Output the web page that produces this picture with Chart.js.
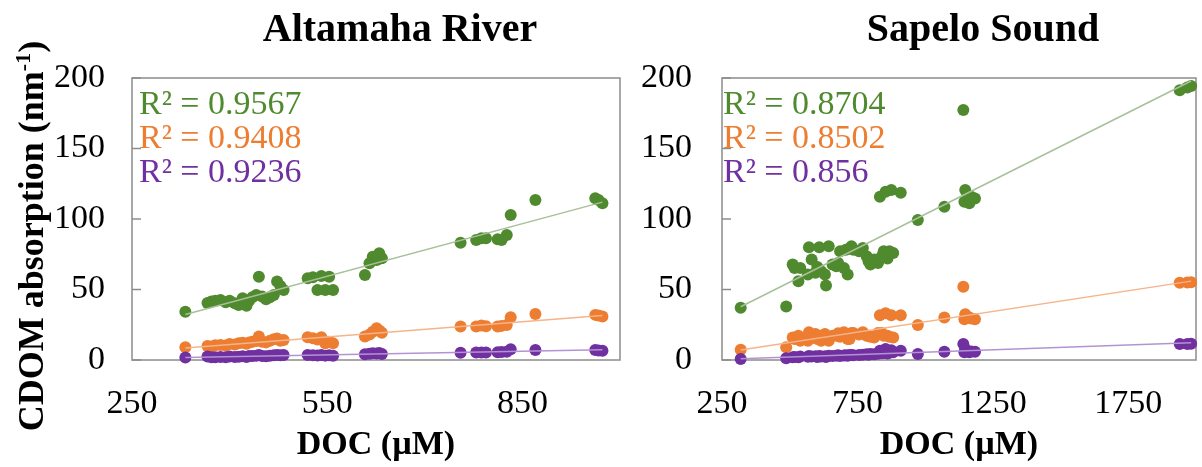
<!DOCTYPE html>
<html>
<head>
<meta charset="utf-8">
<script src="https://cdn.jsdelivr.net/npm/chart.js@4.4.1/dist/chart.umd.min.js"></script>
<style>
  html, body { margin: 0; padding: 0; background: #fff; }
  #wrap { position: relative; width: 1202px; height: 467px; overflow: hidden; }
  #altamaha { position: absolute; left: 0; top: 0; }
  #sapelo { position: absolute; left: 630px; top: 0; }
</style>
</head>
<body>
<div id="wrap">
  <canvas id="altamaha" width="630" height="467"></canvas>
  <canvas id="sapelo" width="572" height="467"></canvas>
</div>
<script>
// Altamaha River samples
const altDoc = [332, 366, 372, 378, 386, 394, 400, 408, 414, 420,
    426, 430, 435, 441, 445, 450, 456, 462, 468, 473,
    478, 483, 520, 528, 535, 541, 547, 553, 559, 608,
    615, 620, 626, 630, 634, 755, 779, 787, 794, 812,
    818, 826, 832, 870, 962, 967, 973];
const altGreen = [34.3, 40.5, 41.5, 42.1, 42.6, 41.0, 42.1, 40.2, 39.0, 43.8,
    38.5, 42.0, 44.5, 46.1, 59.1, 45.0, 43.0, 44.5, 46.1, 55.6,
    52.5, 49.7, 58.0, 58.7, 49.7, 59.6, 49.7, 59.1, 49.7, 60.3,
    68.6, 73.3, 71.0, 75.7, 72.1, 83.2, 85.1, 86.3, 86.3, 85.6,
    85.1, 88.7, 102.9, 113.5, 114.7, 113.5, 111.1];
const altOrange = [9.0, 10.0, 9.6, 10.4, 10.7, 10.2, 11.4, 11.0, 11.8, 12.2,
    11.6, 12.4, 13.0, 13.5, 16.6, 13.0, 12.5, 13.6, 14.7, 15.2,
    13.7, 14.2, 16.1, 15.4, 14.5, 16.1, 11.8, 13.0, 11.8, 16.6,
    18.0, 20.1, 22.5, 21.0, 19.4, 23.7, 23.7, 24.4, 24.0, 23.7,
    24.2, 24.9, 30.3, 32.7, 32.0, 31.5, 30.8];
const altPurple = [1.7, 2.4, 2.0, 1.9, 2.2, 2.0, 2.5, 2.1, 2.3, 2.6,
    2.2, 2.8, 2.9, 3.0, 3.6, 2.8, 2.7, 3.0, 3.4, 3.6,
    3.3, 3.5, 3.5, 3.4, 3.2, 3.6, 3.1, 3.3, 3.0, 4.1,
    4.4, 4.8, 4.6, 4.9, 4.3, 5.2, 5.3, 5.4, 5.4, 5.5,
    5.6, 5.9, 7.6, 7.1, 7.1, 6.8, 6.6];
const altR2 = ['0.9567', '0.9408', '0.9236'];

// Sapelo Sound samples
const sapDoc = [319, 487, 511, 518, 532, 539, 567, 571, 581, 595,
    602, 609, 616, 630, 634, 644, 658, 672, 679, 686,
    700, 707, 714, 721, 728, 735, 756, 770, 784, 791,
    798, 812, 826, 833, 840, 847, 854, 861, 868, 875,
    882, 910, 973, 1071, 1141, 1145, 1148, 1163, 1170, 1184,
    1940, 1968, 1982];
const sapGreen = [37.1, 37.9, 67.7, 65.3, 55.9, 65.3, 60.6, 79.9, 71.2, 61.8,
    66.0, 79.9, 63.0, 60.6, 52.9, 80.6, 67.7, 66.5, 68.8, 77.1,
    65.3, 78.2, 60.6, 79.0, 80.6, 78.2, 77.1, 79.4, 73.5, 70.0,
    67.7, 71.2, 68.8, 115.8, 73.5, 77.1, 119.3, 72.0, 77.1, 120.5,
    75.9, 118.6, 99.3, 108.7, 177.3, 112.3, 120.5, 111.1, 115.8, 114.6,
    191.3, 193.2, 194.4];
const sapOrange = [7.3, 9.0, 16.0, 14.9, 17.2, 13.7, 13.7, 19.6, 16.0, 18.4,
    14.9, 17.2, 13.7, 18.4, 15.5, 13.7, 17.2, 17.2, 19.0, 16.5,
    19.6, 18.0, 14.9, 14.9, 19.1, 19.1, 18.0, 19.6, 17.2, 17.2,
    16.5, 16.0, 19.1, 31.7, 19.1, 17.2, 33.2, 17.2, 16.5, 31.7,
    16.0, 31.7, 24.9, 30.1, 51.9, 28.9, 32.5, 30.1, 29.5, 28.9,
    54.8, 55.0, 55.2];
const sapPurple = [0.7, 1.2, 1.9, 2.2, 2.0, 2.5, 2.3, 2.8, 2.4, 2.6,
    2.2, 2.9, 2.5, 2.7, 2.1, 3.0, 2.8, 3.1, 3.3, 2.9,
    3.2, 3.4, 3.0, 3.5, 3.6, 3.3, 3.5, 3.8, 4.0, 3.7,
    4.2, 4.1, 4.5, 6.6, 4.8, 5.0, 7.8, 4.6, 5.2, 7.0,
    5.5, 6.6, 4.3, 5.9, 11.3, 5.5, 7.8, 5.5, 6.0, 5.9,
    11.3, 11.3, 11.6];
const sapR2 = ['0.8704', '0.8502', '0.856'];

const yTicks = [0, 50, 100, 150, 200];
const altXTicks = [250, 550, 850];
const sapXTicks = [250, 750, 1250, 1750];

const dotColors = ['#4f8b2e', '#ed7d31', '#7030a0'];
const lineColors = ['#a8c09a', '#f5b48a', '#b393d3'];
const frameColor = '#8c8c8c';
const serif = '"Liberation Serif", "Times New Roman", serif';

Chart.defaults.font.family = serif;
Chart.defaults.color = '#000';

function toPoints(xs, ys) {
    return xs.map((x, i) => ({ x: x, y: ys[i] }));
}

// least squares line over the range of the data
function trendLine(xs, ys) {
    const n = xs.length;
    const mx = xs.reduce((a, b) => a + b, 0) / n;
    const my = ys.reduce((a, b) => a + b, 0) / n;
    let sxy = 0, sxx = 0;
    for (let i = 0; i < n; i++) {
        sxy += (xs[i] - mx) * (ys[i] - my);
        sxx += (xs[i] - mx) * (xs[i] - mx);
    }
    const slope = sxy / sxx;
    const icpt = my - slope * mx;
    const x0 = Math.min(...xs), x1 = Math.max(...xs);
    return [{ x: x0, y: icpt + slope * x0 }, { x: x1, y: icpt + slope * x1 }];
}

function makeDatasets(xs, series) {
    const sets = [];
    series.forEach((ys, i) => {
        sets.push({
            data: toPoints(xs, ys),
            backgroundColor: dotColors[i],
            borderColor: dotColors[i],
            pointRadius: 6,
            pointBorderWidth: 0,
            clip: false,
            order: 3 - i
        });
        sets.push({
            data: trendLine(xs, ys),
            showLine: true,
            borderColor: lineColors[i],
            borderWidth: 1.5,
            pointRadius: 0,
            order: 0
        });
    });
    return sets;
}

const panelDecor = {
    id: 'panelDecor',
    beforeDatasetsDraw(chart, args, opts) {
        const { ctx, chartArea: a, scales } = chart;
        ctx.save();
        ctx.strokeStyle = frameColor;
        ctx.lineWidth = 1.5;
        ctx.strokeRect(a.left, a.top, a.right - a.left, a.bottom - a.top);
        scales.y.ticks.forEach(t => {
            const py = scales.y.getPixelForValue(t.value);
            ctx.beginPath();
            ctx.moveTo(a.left, py);
            ctx.lineTo(a.left + 9, py);
            ctx.stroke();
        });
        ctx.restore();
    },
    afterDraw(chart, args, opts) {
        const { ctx, chartArea: a } = chart;
        ctx.save();
        ctx.fillStyle = '#000';
        ctx.font = 'bold 40px ' + serif;
        ctx.textAlign = 'center';
        ctx.textBaseline = 'alphabetic';
        ctx.fillText(opts.title, (a.left + a.right) / 2 + 24, 41);

        ctx.font = '34px ' + serif;
        ctx.textAlign = 'left';
        opts.r2.forEach((v, i) => {
            ctx.fillStyle = dotColors[i];
            ctx.fillText('R² = ' + v, a.left + opts.r2dx, 114 + i * 34);
        });

        if (opts.yTitle) {
            ctx.fillStyle = '#000';
            ctx.translate(43, (a.top + a.bottom) / 2 + 17);
            ctx.rotate(-Math.PI / 2);
            const main = 'CDOM absorption (nm', sup = '-1', close = ')';
            ctx.font = 'bold 36px ' + serif;
            const w1 = ctx.measureText(main).width;
            const w3 = ctx.measureText(close).width;
            ctx.font = 'bold 22px ' + serif;
            const w2 = ctx.measureText(sup).width;
            let x = -(w1 + w2 + w3) / 2;
            ctx.font = 'bold 36px ' + serif;
            ctx.fillText(main, x, 0);
            ctx.font = 'bold 22px ' + serif;
            ctx.fillText(sup, x + w1, -13);
            ctx.font = 'bold 36px ' + serif;
            ctx.fillText(close, x + w1 + w2, 0);
        }
        ctx.restore();
    }
};

function makeOptions(xMin, xMax, xTicks, yWidth, yPad, rightPad, deco) {
    return {
        responsive: false,
        devicePixelRatio: 1,
        animation: false,
        events: [],
        layout: { padding: { top: 78, right: rightPad, left: 0, bottom: 0 } },
        plugins: {
            legend: { display: false },
            tooltip: { enabled: false },
            panelDecor: deco
        },
        scales: {
            x: {
                type: 'linear',
                min: xMin,
                max: xMax,
                afterBuildTicks: s => { s.ticks = xTicks.map(v => ({ value: v })); },
                afterFit: s => { s.height = 107; },
                grid: { display: false, drawTicks: false },
                border: { display: false },
                ticks: {
                    font: { size: 34 },
                    color: '#000',
                    padding: 24,
                    maxRotation: 0,
                    callback: v => String(v)
                },
                title: {
                    display: true,
                    text: 'DOC (µM)',
                    font: { size: 34, weight: 'bold' },
                    color: '#000',
                    padding: { top: 0, bottom: 1 }
                }
            },
            y: {
                type: 'linear',
                min: 0,
                max: 200,
                afterBuildTicks: s => { s.ticks = yTicks.map(v => ({ value: v })); },
                afterFit: s => { s.width = yWidth; },
                grid: { display: false, drawTicks: false },
                border: { display: false },
                ticks: { font: { size: 34 }, color: '#000', padding: yPad, callback: v => String(v) }
            }
        }
    };
}

new Chart(document.getElementById('altamaha'), {
    type: 'scatter',
    data: { datasets: makeDatasets(altDoc, [altGreen, altOrange, altPurple]) },
    options: makeOptions(250, 1000, altXTicks, 132, 27, 10,
        { title: 'Altamaha River', r2: altR2, r2dx: 7, yTitle: true }),
    plugins: [panelDecor]
});

new Chart(document.getElementById('sapelo'), {
    type: 'scatter',
    data: { datasets: makeDatasets(sapDoc, [sapGreen, sapOrange, sapPurple]) },
    options: makeOptions(250, 2000, sapXTicks, 92, 30, 2,
        { title: 'Sapelo Sound', r2: sapR2, r2dx: 1, yTitle: false }),
    plugins: [panelDecor]
});
</script>
</body>
</html>
